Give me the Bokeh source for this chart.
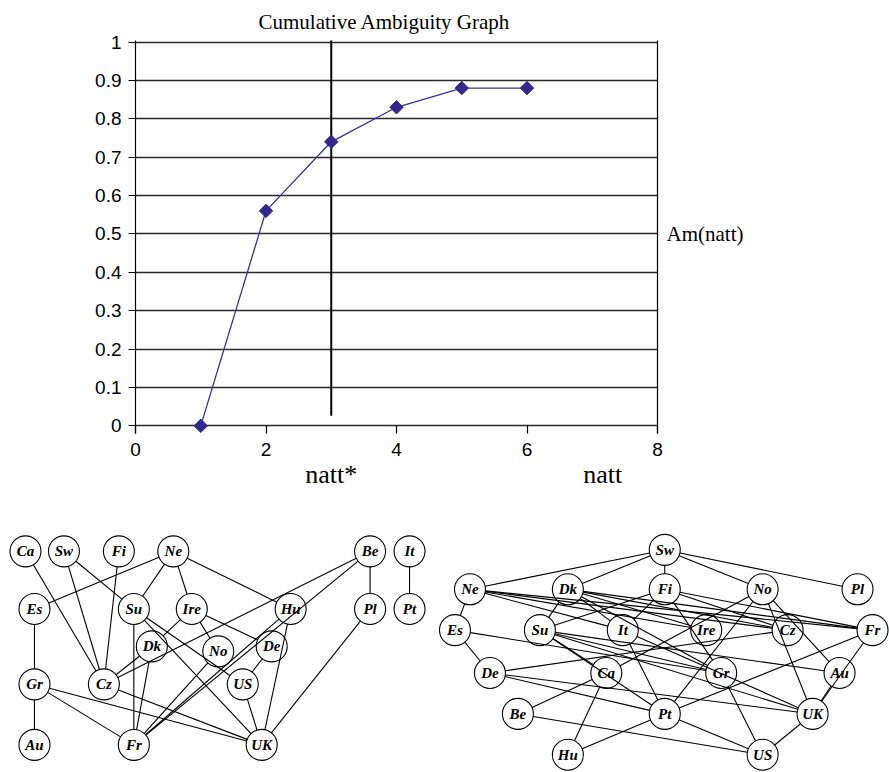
import math
from bokeh.plotting import figure
from bokeh.models import Range1d, FixedTicker, NumeralTickFormatter, LinearAxis
from bokeh.core.properties import value
from bokeh.embed import file_html
from bokeh.resources import INLINE

# ---------------- data: cumulative ambiguity chart ----------------
natt = [1, 2, 3, 4, 5, 6]
ambiguity = [0.0, 0.56, 0.74, 0.83, 0.88, 0.88]
natt_star = 3
x_ticks = [0, 2, 4, 6, 8]
y_ticks = [0, 0.1, 0.2, 0.3, 0.4, 0.5, 0.6, 0.7, 0.8, 0.9, 1.0]
title_text = "Cumulative Ambiguity Graph"
y_label = "Am(natt)"
y_label_at = 0.5
x_label = "natt"
x_label_at = 7.16
x_star_label = "natt*"

# ---------------- data: left graph ----------------
left_names = ["Ca", "Sw", "Fi", "Ne", "Be", "It",
              "Es", "Su", "Ire", "Hu", "Pl", "Pt",
              "Dk", "No", "De",
              "Gr", "Cz", "US",
              "Au", "Fr", "UK"]
left_x = [25, 63.5, 118.5, 173, 370, 409.5,
          34, 133.5, 191.5, 290.5, 370, 409.5,
          151.5, 218, 271.5,
          34, 103.5, 242.5,
          34, 133.5, 261.5]
left_y = [551.5, 551.5, 551.5, 551.5, 551.5, 551.5,
          610, 610, 610, 610, 610, 610,
          648, 653, 648,
          686.5, 686.5, 686.5,
          748, 748, 748]
left_edges = [("Ca", "Cz"), ("Sw", "Cz"), ("Sw", "Su"), ("Su", "US"), ("Fi", "Cz"),
              ("Ne", "Es"), ("Ne", "Su"), ("Ne", "Ire"), ("Ne", "Hu"),
              ("Be", "Cz"), ("Be", "Fr"), ("Be", "Pl"), ("It", "Pt"),
              ("Es", "Gr"), ("Su", "Fr"), ("Su", "UK"),
              ("Ire", "Dk"), ("Ire", "No"), ("Ire", "De"),
              ("Hu", "Fr"), ("Hu", "UK"), ("Pl", "UK"),
              ("Dk", "Cz"), ("Dk", "Fr"), ("No", "Fr"), ("De", "US"), ("US", "UK"),
              ("Gr", "Au"), ("Gr", "Fr"), ("Gr", "UK"), ("Cz", "UK")]

# ---------------- data: right graph ----------------
right_names = ["Sw",
               "Ne", "Dk", "Fi", "No", "Pl",
               "Es", "Su", "It", "Ire", "Cz", "Fr",
               "De", "Ca", "Gr", "Au",
               "Be", "Pt", "UK",
               "Hu", "US"]
right_x = [665,
           470, 568, 665, 763, 858,
           455, 540, 623, 706.5, 788, 873,
           490, 606.5, 721.5, 840,
           518, 665, 813,
           568, 763]
right_y = [550,
           590, 590, 590, 590, 590,
           631.5, 631.5, 631.5, 631.5, 631.5, 631.5,
           675, 675, 675, 675,
           716.5, 716.5, 716.5,
           758, 758]
right_edges = [("Sw", "Ne"), ("Sw", "Dk"), ("Sw", "Fi"), ("Sw", "No"), ("Sw", "Pl"),
               ("Ne", "Es"), ("Ne", "It"), ("Ne", "Ire"), ("Ne", "Cz"), ("Ne", "Fr"),
               ("Dk", "Su"), ("Dk", "It"), ("Dk", "Ire"), ("Dk", "Cz"), ("Dk", "Fr"), ("Dk", "Gr"),
               ("Fi", "Su"), ("Fi", "It"), ("Fi", "Gr"), ("Fi", "Cz"), ("Fi", "Fr"),
               ("No", "Ca"), ("No", "Pt"), ("No", "UK"), ("No", "Au"),
               ("Es", "De"), ("Es", "Gr"),
               ("Su", "Ca"), ("Su", "Pt"), ("Su", "Gr"), ("Su", "UK"), ("Su", "Au"),
               ("It", "Pt"), ("It", "UK"),
               ("De", "Cz"), ("De", "Pt"), ("De", "UK"),
               ("Ca", "Be"), ("Ca", "Hu"),
               ("Gr", "US"), ("Au", "UK"),
               ("Fr", "Pt"), ("Fr", "UK"),
               ("Pt", "Hu"), ("Pt", "US"),
               ("Be", "US"), ("UK", "US")]

# ---------------- top chart ----------------
LINE_COLOR = "#333399"
MARK_COLOR = "#33288c"
W = 889
TOP_H = 508

top = figure(width=W, height=TOP_H,
             x_range=Range1d(0, 8), y_range=Range1d(-0.02, 1.004),
             output_backend="svg", toolbar_location=None,
             min_border_left=135, min_border_right=232,
             min_border_top=40, min_border_bottom=75)
top.outline_line_color = None
top.title.text = title_text
top.title.text_font = "Liberation Serif"
top.title.text_font_size = "21px"
top.title.text_font_style = "normal"
top.title.text_color = "black"
top.title.align = "left"
top.title.offset = 123
top.title.standoff = 13

top.xgrid.grid_line_color = None
top.ygrid.ticker = FixedTicker(ticks=y_ticks)
top.ygrid.grid_line_color = "#2a2a2a"
top.ygrid.grid_line_width = 1.3

top.yaxis.ticker = FixedTicker(ticks=y_ticks)
top.yaxis.formatter = NumeralTickFormatter(format="0.[0]")
top.xaxis.ticker = FixedTicker(ticks=x_ticks)
for ax in (top.xaxis[0], top.yaxis[0]):
    ax.major_label_text_font = "Liberation Sans"
    ax.major_label_text_font_size = "19px"
    ax.major_label_text_color = "black"
    ax.minor_tick_line_color = None
    ax.major_tick_line_color = "black"
    ax.major_tick_line_width = 1.2
top.yaxis.axis_line_color = "black"
top.yaxis.axis_line_width = 1.2
top.yaxis.major_tick_out = 7
top.yaxis.major_tick_in = 0
top.yaxis.major_label_standoff = 7
top.xaxis.axis_line_color = None
top.xaxis.major_tick_in = 8
top.xaxis.major_tick_out = 0
top.xaxis.major_label_standoff = 9

# right border carrying the Am(natt) label
right_axis = LinearAxis(ticker=FixedTicker(ticks=[y_label_at]),
                        major_label_overrides={y_label_at: y_label},
                        axis_line_color="black", axis_line_width=1.2,
                        major_tick_line_color=None, minor_tick_line_color=None,
                        major_tick_out=0, major_tick_in=0,
                        major_label_standoff=9,
                        major_label_text_font="Liberation Serif",
                        major_label_text_font_size="21px",
                        major_label_text_color="black")
top.add_layout(right_axis, "right")

# second bottom axis carrying natt* and natt labels
name_axis = LinearAxis(ticker=FixedTicker(ticks=[natt_star, x_label_at]),
                       major_label_overrides={natt_star: x_star_label, x_label_at: x_label},
                       axis_line_color=None, major_tick_line_color=None,
                       minor_tick_line_color=None, major_tick_out=0, major_tick_in=0,
                       major_label_standoff=1,
                       major_label_text_font="Liberation Serif",
                       major_label_text_font_size="26px",
                       major_label_text_color="black")
top.add_layout(name_axis, "below")

top.segment(x0=[natt_star], y0=[0.026], x1=[natt_star], y1=[1.01],
            line_color="black", line_width=2)
top.line(natt, ambiguity, line_color=LINE_COLOR, line_width=1.3)
top.scatter(natt, ambiguity, marker="square", size=9.5, angle=math.pi / 4,
            fill_color=MARK_COLOR, line_color=MARK_COLOR)

# ---------------- bottom graphs ----------------
BOT_H = 772 - TOP_H
XR = (0, 890)
YR = (776, 508)
SX = W / (XR[1] - XR[0])
SY = BOT_H / (YR[0] - YR[1])
R = 15.5

bot = figure(width=W, height=BOT_H, x_range=Range1d(*XR), y_range=Range1d(*YR),
             output_backend="svg", toolbar_location=None,
             x_axis_type=None, y_axis_type=None, min_border=0)
bot.grid.visible = False
bot.outline_line_color = None


def trimmed(names, xs, ys, edges):
    pos = {n: (x, y) for n, x, y in zip(names, xs, ys)}
    x0, y0, x1, y1 = [], [], [], []
    for a, b in edges:
        ax_, ay_ = pos[a]
        bx_, by_ = pos[b]
        dx = (bx_ - ax_) * SX
        dy = (by_ - ay_) * SY
        L = math.hypot(dx, dy)
        ux, uy = dx / L, dy / L
        x0.append(ax_ + ux * R / SX)
        y0.append(ay_ + uy * R / SY)
        x1.append(bx_ - ux * R / SX)
        y1.append(by_ - uy * R / SY)
    return x0, y0, x1, y1


for names, xs, ys, edges in ((left_names, left_x, left_y, left_edges),
                             (right_names, right_x, right_y, right_edges)):
    x0, y0, x1, y1 = trimmed(names, xs, ys, edges)
    bot.segment(x0=x0, y0=y0, x1=x1, y1=y1, line_color="black", line_width=1.1)
    bot.scatter(xs, ys, marker="circle", size=31, fill_color=None,
                line_color="black", line_width=1.1)
    bot.text(xs, ys, text=names, text_font=value("Liberation Serif"),
             text_font_size="15px", text_font_style="bold italic",
             text_align="center", text_baseline="middle", text_color="black")

open("out.html", "w").write(file_html([top, bot], INLINE))
